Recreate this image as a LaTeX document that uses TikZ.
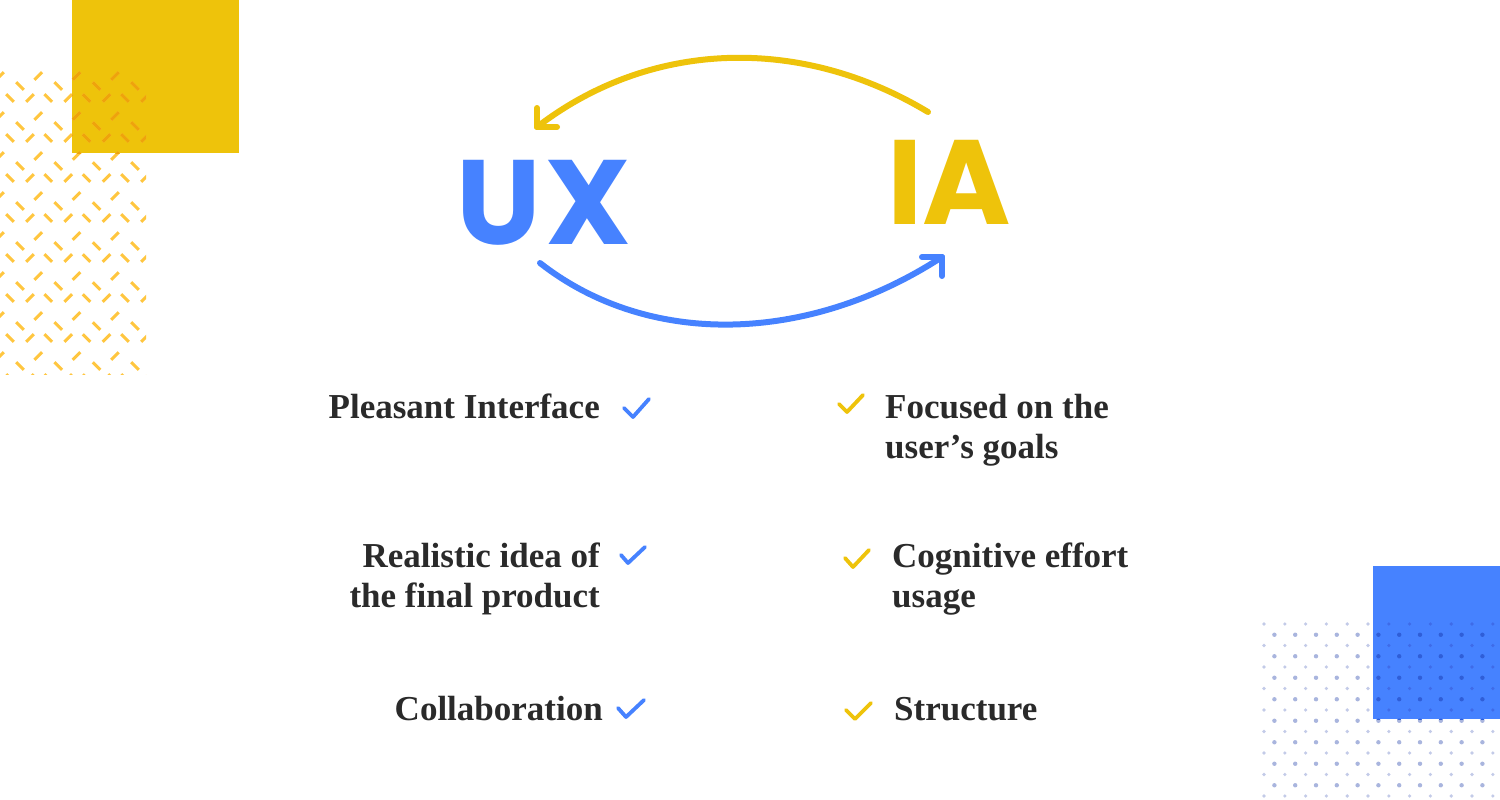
\documentclass[tikz,border=0pt]{standalone}
\usepackage{fontspec}
\setmainfont{Liberation Serif}
\newfontfamily\uxfont{Poppins}
\definecolor{ubl}{HTML}{4682FF}
\definecolor{uye}{HTML}{EEC30B}
\definecolor{dashy}{HTML}{FFC63F}
\definecolor{dasho}{HTML}{EEA30C}
\definecolor{dotl}{HTML}{C3CBE8}
\definecolor{dotd}{HTML}{A9B5DE}
\definecolor{dotbl}{HTML}{3E6BE8}
\definecolor{dotbd}{HTML}{2F5ED8}
\definecolor{ink}{HTML}{2A2A2A}
\newcommand\ydashgrid[1]{%
  \foreach \k in {0,...,7}{\foreach \j in {-1,...,4}{%
    \draw[#1] ({38.3*\j-3.8},{76+40*\k+3.8}) -- ++(7.6,-7.6);
    \draw[#1] ({20+38.3*\j-3.8},{86+40*\k-3.8}) -- ++(7.6,7.6);
    \draw[#1] ({10+38.3*\j-3.8},{98+40*\k-3.8}) -- ++(7.6,7.6);
    \draw[#1] ({30+38.3*\j-3.8},{98+40*\k+3.8}) -- ++(7.6,-7.6);
  }}}
\newcommand\bdotgrid[2]{%
  \foreach \i in {0,2,...,16}{\foreach \j in {0,...,11}{%
    \fill[#1] ({1264+20.8*\j},{624+10.75*\i}) circle (1.8);}}
  \foreach \i in {1,3,...,15}{\foreach \j in {0,...,10}{%
    \fill[#2] ({1274.4+20.8*\j},{624+10.75*\i}) circle (2.2);}}}
\begin{document}
\begin{tikzpicture}[x=1pt,y=-1pt,
  lbl/.style={font=\fontsize{35}{36}\selectfont\bfseries, text=ink, inner sep=0pt},
  big/.style={font=\fontsize{120}{121}\selectfont\uxfont\bfseries, inner sep=0pt},
  chk/.style={line width=3.8pt, line cap=round, line join=round},
  arc/.style={line width=6pt, line cap=round, line join=round},
  dsh/.style={line width=3pt}]
\useasboundingbox (0,0) rectangle (1500,800);
\fill[white] (0,0) rectangle (1500,800);
% top-left decoration
\fill[uye] (72,0) rectangle (239,153);
\begin{scope}
  \clip (0,70) rectangle (146,374);
  \ydashgrid{dsh, dashy}
\end{scope}
\begin{scope}
  \clip (72,70) rectangle (146,153);
  \ydashgrid{dsh, dasho}
\end{scope}
% bottom-right decoration
\fill[ubl] (1373,566) rectangle (1500,719);
\begin{scope}
  \clip (0,0) rectangle (1373,800) (1373,719) rectangle (1500,800);
  \bdotgrid{dotl}{dotd}
\end{scope}
\begin{scope}
  \clip (1373,566) rectangle (1500,719);
  \bdotgrid{dotbl}{dotbd}
\end{scope}
% big letters
\node[big, text=ubl, anchor=base west] (ux) at (456.5,244) {U\kern4pt X};
\node[big, text=uye, anchor=base west] (ia) at (887,224) {IA};
% connectors
\coordinate (ys) at (928,112);
\coordinate (yt) at (537,127);
\coordinate (bs) at (540,263);
\coordinate (bt) at (942,257);
\draw[arc, uye] (ys) .. controls (800,35) and (650,40) .. (yt);
\draw[arc, uye] ([shift={(0,-19)}]yt) -- (yt) -- ([shift={(20,0)}]yt);
\draw[arc, ubl] (bs) .. controls (650,349) and (810,343) .. (bt);
\draw[arc, ubl] ([shift={(-20,0)}]bt) -- (bt) -- ([shift={(0,19)}]bt);
% left column
\node[lbl, anchor=base east] (l1) at (600,418) {Pleasant Interface};
\draw[chk, ubl] (624,408) -- (633,417) -- (649,399);
\node[lbl, anchor=base east] (l2a) at (600,567) {Realistic idea of};
\node[lbl, anchor=base east] (l2b) at (600,607) {the final product};
\draw[chk, ubl] (621,555) -- (628,563) -- (645,547);
\node[lbl, anchor=base east] (l3) at (603,720) {Collaboration};
\draw[chk, ubl] (618,708) -- (626,717) -- (644,700);
% right column
\node[lbl, anchor=base west] (r1a) at (885,418) {Focused on the};
\node[lbl, anchor=base west] (r1b) at (885,458) {user’s goals};
\draw[chk, uye] (839,404) -- (847,412) -- (863,395);
\node[lbl, anchor=base west] (r2a) at (892,567) {Cognitive effort};
\node[lbl, anchor=base west] (r2b) at (892,607) {usage};
\draw[chk, uye] (845,558) -- (853,567) -- (869,550);
\node[lbl, anchor=base west] (r3) at (894,720) {Structure};
\draw[chk, uye] (846,710) -- (855,719) -- (871,703);
\end{tikzpicture}
\end{document}
